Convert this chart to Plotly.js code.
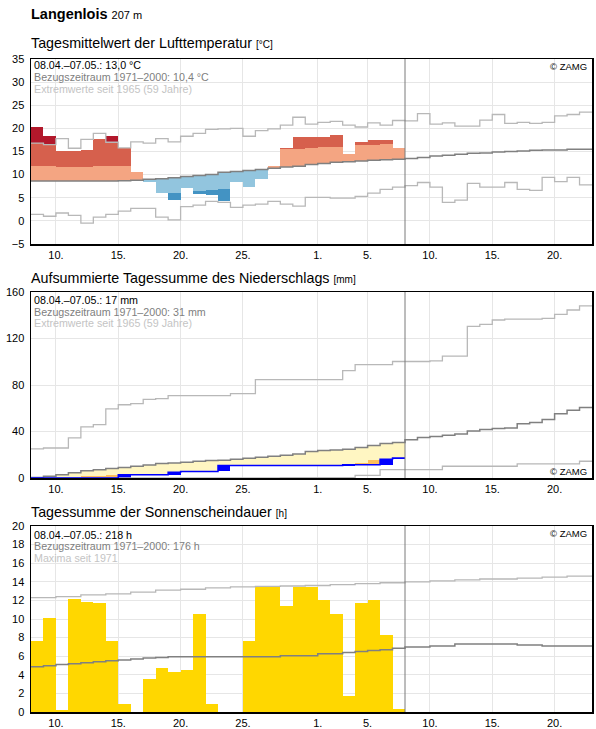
<!DOCTYPE html>
<html><head><meta charset="utf-8">
<script src="https://cdn.plot.ly/plotly-3.0.1.min.js"></script>
<style>html,body{margin:0;padding:0;background:#fff;} #chart{width:596px;height:729px;}</style>
</head><body><div id="chart"></div>
<script>
// ---------- DATA ----------
// Day index 0 = 08.04., 45 days shown (08.04. - 22.05.), observations for 30 days (08.04. - 07.05.)
const startDayOfMonth = 8;
const daysInStartMonth = 30;
const nDays = 45;
const tickDays = [1, 5, 10, 15, 20, 25];

// Temperature (°C)
const tempObs = [20.4,18.3,15.1,15.1,15.3,17.7,18.3,15.7,10.6,8.3,6.1,4.6,7.1,5.9,5.7,4.3,8.4,7.4,9.1,11.9,15.7,18.1,18.1,18.1,18.6,14.5,17.1,17.5,17.5,15.8];
const tempClim = [8.6,8.6,8.6,8.6,8.6,8.6,8.6,8.7,8.8,9.0,9.1,9.35,9.6,9.8,10.0,10.5,10.7,10.9,11.1,11.4,11.65,11.8,12.2,12.4,12.7,12.8,12.95,13.1,13.2,13.3,13.5,13.7,14.0,14.2,14.4,14.6,14.7,14.9,15.0,15.1,15.25,15.3,15.3,15.5,15.5];
const tempUpper = [11.9,11.9,11.7,11.7,11.7,11.9,11.9,11.9,12.2,12.4,12.6,12.8,13.0,13.2,13.4,13.8,14.0,14.2,14.4,14.7,15.5,15.5,15.8,16.0,16.0,16.2,16.3,16.5,16.7,16.8];
const tempLower = [5.2,5.2,5.3,5.3,5.3,5.2,5.2,5.3,5.5,5.7,5.9,6.1,6.3,6.5,6.7,6.9,7.1,7.2,7.4,7.7,8.0,8.1,8.5,8.7,9.0,9.1,9.3,9.4,9.5,9.6];
const tempMax = [16.8,16.5,17.8,15.7,17.6,18.9,17.0,15.8,17.1,16.8,17.8,17.1,18.3,18.9,19.8,19.9,20.0,18.3,19.5,19.9,20.7,22.4,20.9,21.3,21.5,20.7,20.3,21.2,20.7,21.7,21.6,23.2,20.9,21.2,20.5,20.5,21.8,23.0,21.1,21.3,21.1,21.3,22.7,23.0,23.5];
const tempMin = [1.4,1.0,1.7,1.2,-0.5,0.8,1.4,2.1,2.7,2.7,0.8,0.2,3.1,3.4,4.2,4.0,2.9,3.4,3.6,4.2,3.6,3.2,5.1,5.1,4.9,4.9,5.3,6.0,6.8,7.3,7.6,8.3,7.3,4.0,4.5,8.1,7.3,7.3,8.3,6.8,6.6,9.4,8.5,9.4,7.8];

// Precipitation (mm): daily sums observed, accumulated climatology / thresholds / extremes
const precDaily = [0,0,0,0,0,0,0,2.9,0,0,0,2.0,0.7,0,0,5.1,0,0,0,0,0,0,0,0,0,0.8,0,0,4.6,1.2];
const precClim = [0.4,1.5,2.9,4.6,6.3,7.2,8.1,9.0,10.1,11.2,12.4,12.9,13.5,14.4,15.0,15.2,16.1,17.0,17.8,18.7,19.6,20.7,22.7,23.6,24.0,24.7,26.2,27.9,29.6,30.5,32.9,34.8,35.8,36.8,37.8,40.5,41.8,42.6,43.1,46.6,47.7,50.3,55.2,58.3,60.7];
const precLower = [0,0,0,0,1.5,1.7,2.5,2.8,2.8,2.8,2.8,3.0,3.4,3.8,4.3,4.8,5.3,5.8,6.3,6.8,7.3,7.8,8.5,9.0,9.6,10.2,13.3,15.3,15.6,16.2];
const precMax = [25.0,25.8,25.8,34.5,44.0,46.0,59.5,63.0,63.9,67.6,68.2,70.8,70.8,70.8,70.8,70.8,72.5,72.5,84.6,84.6,84.6,84.6,84.6,84.6,84.6,92.4,97.6,97.6,97.6,100.2,100.2,100.2,100.7,104.8,104.8,130.4,132.1,135.9,136.7,136.7,136.7,137.3,140.8,144.5,148.0];
const precMin = [0,0,0,0,0,0,0,0,0,0,0,0,0,0,0,0,0,0,0,0,0.3,0.3,0.3,0.3,0.3,0.3,2.3,2.3,7.2,7.2,7.2,7.2,7.2,10.1,10.1,10.1,10.1,10.1,10.1,12.2,12.2,12.2,12.2,12.2,14.4];

// Sunshine duration (h)
const sunObs = [7.6,10.1,0.2,12.1,11.8,11.7,7.6,0.9,0,3.5,4.7,4.3,4.5,10.5,0.9,0,0,7.6,13.5,13.5,11.4,13.4,13.4,12.0,10.5,1.7,11.7,12.0,8.3,0.3];
const sunClim = [4.87,4.98,5.1,5.2,5.3,5.4,5.5,5.6,5.7,5.8,5.85,5.95,5.95,5.95,5.95,5.95,5.95,5.95,5.95,5.95,6.05,6.05,6.05,6.27,6.27,6.4,6.5,6.6,6.7,6.85,7.0,7.0,7.1,7.1,7.3,7.3,7.3,7.3,7.3,7.2,7.2,7.1,7.1,7.1,7.1];
const sunMax = [12.3,12.3,12.4,12.4,12.6,12.6,12.7,12.7,12.9,12.9,13.1,13.1,13.2,13.2,13.35,13.35,13.45,13.45,13.5,13.5,13.55,13.55,13.6,13.6,13.7,13.7,13.8,13.8,13.9,13.9,14.0,14.0,14.1,14.1,14.2,14.2,14.3,14.3,14.3,14.4,14.4,14.5,14.5,14.6,14.6];

// Texts
const stationName = 'Langenlois';
const stationAlt = '207 m';
const panelTitles = ['Tagesmittelwert der Lufttemperatur', 'Aufsummierte Tagessumme des Niederschlags', 'Tagessumme der Sonnenscheindauer'];
const panelUnits = ['[°C]', '[mm]', '[h]'];
const infoLines = [
  ['08.04.–07.05.: 13,0 °C', 'Bezugszeitraum 1971–2000: 10,4 °C', 'Extremwerte seit 1965 (59 Jahre)'],
  ['08.04.–07.05.: 17 mm', 'Bezugszeitraum 1971–2000: 31 mm', 'Extremwerte seit 1965 (59 Jahre)'],
  ['08.04.–07.05.: 218 h', 'Bezugszeitraum 1971–2000: 176 h', 'Maxima seit 1971']
];
const copyright = '© ZAMG';

// ---------- HELPERS ----------
const FONT = 'Liberation Sans, Arial, Helvetica, sans-serif';
const W = 596, H = 729, M = {l: 31, r: 4, t: 59, b: 17};
const PH = H - M.t - M.b, PW = W - M.l - M.r;
const fy = px => (H - M.b - px) / PH;
const fx = px => (px - M.l) / PW;

const tickvals = [], ticktext = [];
for (let i = 0; i < nDays; i++) {
  let d = startDayOfMonth + i;
  if (d > daysInStartMonth) d -= daysInStartMonth;
  if (tickDays.indexOf(d) >= 0) { tickvals.push(i); ticktext.push(d + '.'); }
}
const nObs = tempObs.length;

function stepLine(arr, color, width, xa, ya) {
  const x = [], y = [];
  for (let i = 0; i <= arr.length; i++) { x.push(i); y.push(arr[Math.min(i, arr.length - 1)]); }
  return {type: 'scatter', mode: 'lines', x, y, line: {shape: 'hv', color, width}, xaxis: xa, yaxis: ya, hoverinfo: 'skip', showlegend: false};
}
function band(lo, hi, color, xa, ya) {
  const x = [], base = [], h = [];
  for (let i = 0; i < lo.length; i++) {
    if (lo[i] != null && hi[i] != null && hi[i] > lo[i]) { x.push(i + 0.5); base.push(lo[i]); h.push(hi[i] - lo[i]); }
  }
  return {type: 'bar', x, y: h, base, width: 1, marker: {color, line: {width: 0}}, xaxis: xa, yaxis: ya, hoverinfo: 'skip', showlegend: false};
}

const traces = [];
// ---- Panel 1: temperature ----
{
  const o = tempObs, c = tempClim.slice(0, nObs), up = tempUpper, lw = tempLower, mx = tempMax.slice(0, nObs), mn = tempMin.slice(0, nObs);
  const wl = [], wh = [], ml = [], mh = [], dl = [], dh = [];
  const cl = [], ch = [], cml = [], cmh = [], cdl = [], cdh = [];
  for (let i = 0; i < nObs; i++) {
    if (o[i] > c[i]) {
      wl.push(c[i]); wh.push(Math.min(o[i], up[i]));
      ml.push(up[i]); mh.push(Math.min(o[i], mx[i]));
      dl.push(Math.max(up[i], mx[i])); dh.push(o[i]);
      cl.push(null); ch.push(null); cml.push(null); cmh.push(null); cdl.push(null); cdh.push(null);
    } else {
      wl.push(null); wh.push(null); ml.push(null); mh.push(null); dl.push(null); dh.push(null);
      cl.push(Math.max(o[i], lw[i])); ch.push(c[i]);
      cml.push(Math.max(o[i], mn[i])); cmh.push(lw[i]);
      cdl.push(o[i]); cdh.push(Math.min(lw[i], mn[i]));
    }
  }
  traces.push(band(wl, wh, '#f4a582', 'x', 'y'));
  traces.push(band(ml, mh, '#d6604d', 'x', 'y'));
  traces.push(band(dl, dh, '#b2182b', 'x', 'y'));
  traces.push(band(cl, ch, '#92c5de', 'x', 'y'));
  traces.push(band(cml, cmh, '#4393c3', 'x', 'y'));
  traces.push(band(cdl, cdh, '#2166ac', 'x', 'y'));
  traces.push(stepLine(tempMax, '#b8b8b8', 1.3, 'x', 'y'));
  traces.push(stepLine(tempMin, '#b8b8b8', 1.3, 'x', 'y'));
  traces.push(stepLine(tempClim, '#808080', 1.5, 'x', 'y'));
}
// ---- Panel 2: precipitation ----
{
  const cum = [], prev = [];
  let s = 0;
  for (let i = 0; i < precDaily.length; i++) { prev.push(s); s += precDaily[i]; cum.push(Math.round(s * 10) / 10); }
  const ol = [], oh = [], yl = [], yh = [];
  for (let i = 0; i < cum.length; i++) {
    const c = precClim[i], t = precLower[i];
    if (cum[i] < c) {
      if (t > cum[i]) { ol.push(cum[i]); oh.push(Math.min(t, c)); } else { ol.push(null); oh.push(null); }
      yl.push(Math.max(cum[i], t)); yh.push(c);
    } else { ol.push(null); oh.push(null); yl.push(null); yh.push(null); }
  }
  traces.push(band(yl, yh, '#fff6c2', 'x2', 'y2'));
  traces.push(band(ol, oh, '#fdbe5b', 'x2', 'y2'));
  traces.push(band(prev, cum, '#0000ff', 'x2', 'y2'));
  traces.push(stepLine(precMax, '#b8b8b8', 1.3, 'x2', 'y2'));
  traces.push(stepLine(precMin, '#b8b8b8', 1.3, 'x2', 'y2'));
  traces.push(stepLine(precClim, '#808080', 1.5, 'x2', 'y2'));
  traces.push(stepLine(cum, '#0000ff', 1.5, 'x2', 'y2'));
}
// ---- Panel 3: sunshine ----
{
  const z = sunObs.map(() => 0);
  traces.push(band(z, sunObs, '#ffd700', 'x3', 'y3'));
  traces.push(stepLine(sunClim, '#808080', 1.5, 'x3', 'y3'));
  traces.push(stepLine(sunMax, '#b8b8b8', 1.3, 'x3', 'y3'));
}

// ---------- LAYOUT ----------
const tickfont = {family: FONT, size: 11, color: '#000'};
function xax(anchor) {
  return {range: [0, nDays], tickmode: 'array', tickvals, ticktext, showgrid: true, gridcolor: '#e6e6e6', gridwidth: 1,
    showline: true, mirror: true, linecolor: '#000', linewidth: 1.5, zeroline: false, ticks: '', tickfont, anchor, fixedrange: true, domain: [0, 1]};
}
function yax(range, dtick, domain, anchor) {
  return {range, dtick, tick0: 0, showgrid: true, gridcolor: '#e6e6e6', gridwidth: 1, showline: true, mirror: true,
    linecolor: '#000', linewidth: 1.5, zeroline: false, ticks: '', tickfont, anchor, domain, fixedrange: true, ticklabelstandoff: 3};
}
const titleY = [43, 277.5, 511.8];
const infoY = [[65, 77, 89], [300.2, 311.8, 323.2], [534.5, 546, 557.5]];
const zamgY = [66, 472, 533];
const annotations = [];
annotations.push({xref: 'paper', yref: 'paper', x: fx(31), y: fy(14), xanchor: 'left', yanchor: 'middle', xshift: -2, showarrow: false,
  text: '<b>' + stationName + '</b> <span style="font-size:11px">' + stationAlt + '</span>', font: {family: FONT, size: 14.5, color: '#000'}});
const infoColors = ['#000000', '#808080', '#c4c4c4'];
for (let p = 0; p < 3; p++) {
  annotations.push({xref: 'paper', yref: 'paper', x: fx(31), y: fy(titleY[p]), xanchor: 'left', yanchor: 'middle', xshift: -2, showarrow: false,
    text: panelTitles[p] + ' <span style="font-size:10px">' + panelUnits[p] + '</span>', font: {family: FONT, size: 14.3, color: '#000'}});
  for (let k = 0; k < 3; k++) {
    annotations.push({xref: 'paper', yref: 'paper', x: fx(34), y: fy(infoY[p][k]), xanchor: 'left', yanchor: 'middle', xshift: -2, showarrow: false,
      text: infoLines[p][k], font: {family: FONT, size: 10.7, color: infoColors[k]}});
  }
  annotations.push({xref: 'paper', yref: 'paper', x: fx(587), y: fy(zamgY[p]), xanchor: 'right', yanchor: 'middle', xshift: 2, showarrow: false,
    text: copyright, font: {family: FONT, size: 9.5, color: '#000'}});
}
const shapes = ['x', 'x2', 'x3'].map((xa, k) => ({type: 'line', xref: xa, yref: ['y', 'y2', 'y3'][k] + ' domain', x0: nObs, x1: nObs, y0: 0, y1: 1,
  line: {color: '#7a7a7a', width: 1}}));

const layout = {
  width: W, height: H, margin: M, paper_bgcolor: '#fff', plot_bgcolor: '#fff', showlegend: false, barmode: 'overlay', bargap: 0,
  font: {family: FONT, size: 11, color: '#000'},
  xaxis: xax('y'), yaxis: yax([-5, 35], 5, [fy(244), fy(59)], 'x'),
  xaxis2: xax('y2'), yaxis2: yax([0, 160], 40, [fy(478), fy(292)], 'x2'),
  xaxis3: xax('y3'), yaxis3: yax([0, 20], 2, [fy(712), fy(526)], 'x3'),
  annotations, shapes
};
Plotly.newPlot('chart', traces, layout, {displayModeBar: false, staticPlot: true});
</script></body></html>
